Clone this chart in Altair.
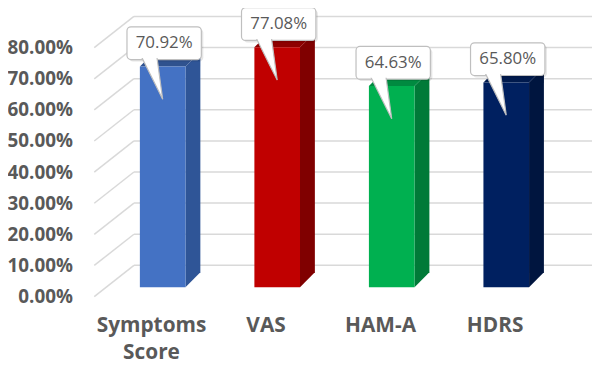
import altair as alt
import pandas as pd

# ---- data ----
categories = ["Symptoms\nScore", "VAS", "HAM-A", "HDRS"]
values = [0.7092, 0.7708, 0.6463, 0.6580]
front_colors = ["#4472c4", "#c00000", "#00b050", "#002060"]
side_colors = ["#2f5597", "#800000", "#007a38", "#00153f"]
top_colors = ["#2f528f", "#8e0000", "#008a40", "#001a4d"]
tick_values = [0.0, 0.1, 0.2, 0.3, 0.4, 0.5, 0.6, 0.7, 0.8]

# ---- geometry (pixels -> data units) ----
W, H = 502, 280
SLOT_PX = 115.5
XMAX = W / SLOT_PX
YMAX = 0.8924
PXX = W / XMAX
PXY = H / YMAX


def ux(px):
    return px / PXX


def uy(px):
    return px / PXY


BAR_START = ux(46)
BW = ux(46)
DEPTH_X = ux(15)
DEPTH_Y = uy(15)
WALL_X = ux(40)
BACK_DY = uy(22)
FRONT_DY = uy(9.5)

xs = alt.Scale(domain=[0, XMAX], nice=False, zero=False)
ys = alt.Scale(domain=[0, YMAX], nice=False, zero=False)
Y_AXIS = alt.Axis(values=tick_values, format=".2%", grid=False, ticks=False,
                  domain=False, labelPadding=22, labelOffset=9.5,
                  labelFont="Open Sans", labelFontWeight="bold",
                  labelFontSize=19, labelColor="#595959", title=None)


def X(field):
    return alt.X(field, scale=xs, axis=None, title=None)


def Y(field):
    return alt.Y(field, scale=ys, axis=Y_AXIS, title=None)


# ---- gridlines (3D wall) ----
grid = pd.DataFrame({
    "t": tick_values,
    "back": [t + BACK_DY for t in tick_values],
    "front": [t - FRONT_DY for t in tick_values],
    "x0": [0.0] * len(tick_values),
    "x1": [WALL_X] * len(tick_values),
    "x2": [XMAX] * len(tick_values),
})

gcol = "#d9d9d9"
back_rules = alt.Chart(grid).mark_rule(color=gcol, strokeWidth=1.5).encode(
    x=X("x1:Q"), x2="x2:Q", y=Y("back:Q"),
)
diag_rules = alt.Chart(grid).mark_rule(color=gcol, strokeWidth=1.5).encode(
    x=X("x0:Q"), x2="x1:Q", y=Y("front:Q"), y2="back:Q",
)

# ---- bars ----
fronts, sides, tops = [], [], []
for i, v in enumerate(values):
    a = BAR_START + i
    fronts.append({"id": i, "x": a, "x2": a + BW, "y": 0.0, "y2": v, "c": front_colors[i]})
    sides += [
        {"id": i, "x": a + BW, "y": 0.0, "y2": v, "c": side_colors[i]},
        {"id": i, "x": a + BW + DEPTH_X, "y": DEPTH_Y, "y2": v + DEPTH_Y, "c": side_colors[i]},
    ]
    tops += [
        {"id": i, "x": a, "y": v, "y2": v, "c": top_colors[i]},
        {"id": i, "x": a + DEPTH_X, "y": v, "y2": v + DEPTH_Y, "c": top_colors[i]},
        {"id": i, "x": a + BW, "y": v, "y2": v + DEPTH_Y, "c": top_colors[i]},
        {"id": i, "x": a + BW + DEPTH_X, "y": v + DEPTH_Y, "y2": v + DEPTH_Y, "c": top_colors[i]},
    ]


def face(df):
    return alt.Chart(pd.DataFrame(df)).mark_area(orient="vertical", interpolate="linear").encode(
        x=X("x:Q"), y=Y("y:Q"), y2="y2:Q",
        color=alt.Color("c:N", scale=None),
        detail="id:N",
    )


side_layer = face(sides)
top_layer = face(tops)
front_layer = alt.Chart(pd.DataFrame(fronts)).mark_rect().encode(
    x=X("x:Q"), x2="x2:Q", y=Y("y:Q"), y2="y2:Q",
    color=alt.Color("c:N", scale=None),
)

# ---- callouts ----
boxes, tails = [], []
for i, v in enumerate(values):
    a = BAR_START + i
    bl, br = a - ux(13), a + ux(62)
    bb, bt = v + uy(7), v + uy(40)
    boxes.append({"id": i, "x": bl, "x2": br, "y": bb, "y2": bt,
                  "sx": bl + ux(2), "sx2": br + ux(2), "sy": bb - uy(2), "sy2": bt - uy(2),
                  "ix": bl + ux(1.5), "ix2": br - ux(1.5), "iy": bb + uy(1.5), "iy2": bt - uy(1.5),
                  "tx": (bl + br) / 2, "ty": (bb + bt) / 2, "v": v})
    base = bb + uy(4)
    p0, p1 = a + ux(1), a + ux(17)
    tipx, tipy = a + BW / 2, v - uy(33)
    mid = base + (tipy - base) * (p1 - p0) / (tipx - p0)
    tails += [
        {"id": i, "x": p0, "y": base, "y2": base},
        {"id": i, "x": p1, "y": base, "y2": mid},
        {"id": i, "x": tipx, "y": tipy, "y2": tipy},
    ]
boxes = pd.DataFrame(boxes)

shadow = alt.Chart(boxes).mark_rect(cornerRadius=4, color="#000000", opacity=0.10).encode(
    x=X("sx:Q"), x2="sx2:Q", y=Y("sy:Q"), y2="sy2:Q",
)
box = alt.Chart(boxes).mark_rect(cornerRadius=4, fill="#ffffff", stroke="#bfbfbf", strokeWidth=1.2).encode(
    x=X("x:Q"), x2="x2:Q", y=Y("y:Q"), y2="y2:Q",
)
tail = alt.Chart(pd.DataFrame(tails)).mark_area(
    orient="vertical", interpolate="linear", fill="#ffffff", stroke="#bfbfbf", strokeWidth=1.2
).encode(
    x=X("x:Q"), y=Y("y:Q"), y2="y2:Q", detail="id:N",
)
inner = alt.Chart(boxes).mark_rect(cornerRadius=3, fill="#ffffff").encode(
    x=X("ix:Q"), x2="ix2:Q", y=Y("iy:Q"), y2="iy2:Q",
)
ctext = alt.Chart(boxes).mark_text(font="Open Sans", fontSize=17, color="#595959",
                                   baseline="middle", align="center").encode(
    x=X("tx:Q"), y=Y("ty:Q"),
    text=alt.Text("v:Q", format=".2%"),
)

# ---- category labels ----
cat_df = pd.DataFrame({"cat": categories, "x": [i + 0.5 for i in range(len(categories))],
                       "y": [0.0] * len(categories)})
cat_text = alt.Chart(cat_df).mark_text(font="Open Sans", fontSize=21, fontWeight="bold",
                                       color="#595959", align="center", baseline="alphabetic",
                                       dy=45, lineBreak="\n", lineHeight=27).encode(
    x=X("x:Q"), y=Y("y:Q"), text="cat:N",
)

chart = alt.layer(
    diag_rules, back_rules,
    side_layer, top_layer, front_layer,
    shadow, box, tail, inner, ctext,
    cat_text,
).properties(
    width=W, height=H,
    autosize=alt.AutoSizeParams(type="none"),
    padding={"left": 87, "top": 0, "right": 0, "bottom": 78},
    background="#ffffff",
).configure_view(stroke=None)

chart.save("out.html", embed_options={"renderer": "svg", "actions": False})
